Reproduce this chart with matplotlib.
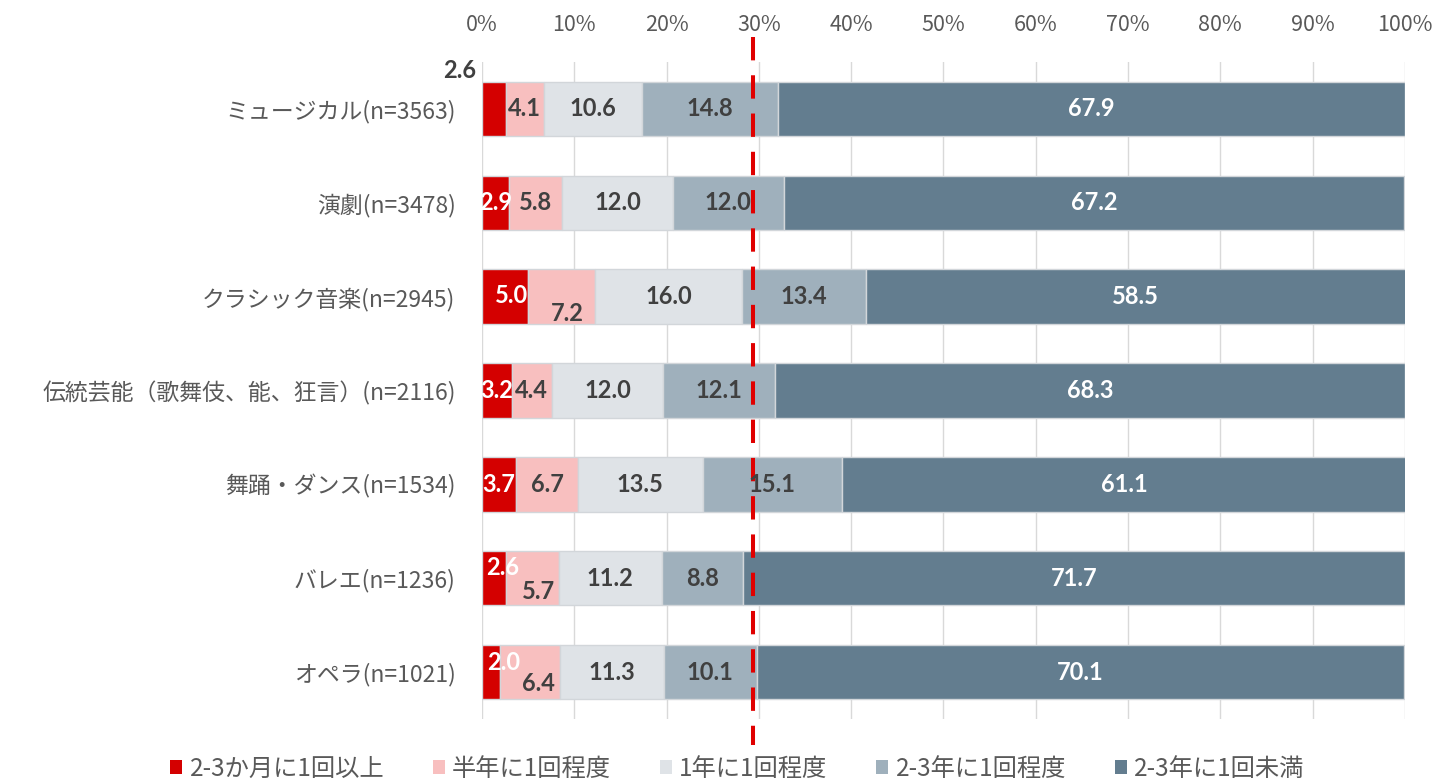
import matplotlib
matplotlib.use("Agg")
import matplotlib.pyplot as plt
from matplotlib.patches import Patch

plt.rcParams['font.family'] = ['Noto Sans CJK JP', 'DejaVu Sans']

categories = [
    "ミュージカル(n=3563)",
    "演劇(n=3478)",
    "クラシック音楽(n=2945)",
    "伝統芸能（歌舞伎、能、狂言）(n=2116)",
    "舞踊・ダンス(n=1534)",
    "バレエ(n=1236)",
    "オペラ(n=1021)",
]
series_names = ["2-3か月に1回以上", "半年に1回程度", "1年に1回程度", "2-3年に1回程度", "2-3年に1回未満"]
s_2_3_months = [2.6, 2.9, 5.0, 3.2, 3.7, 2.6, 2.0]
s_half_year = [4.1, 5.8, 7.2, 4.4, 6.7, 5.7, 6.4]
s_one_year = [10.6, 12.0, 16.0, 12.0, 13.5, 11.2, 11.3]
s_2_3_years = [14.8, 12.0, 13.4, 12.1, 15.1, 8.8, 10.1]
s_less = [67.9, 67.2, 58.5, 68.3, 61.1, 71.7, 70.1]
series = [s_2_3_months, s_half_year, s_one_year, s_2_3_years, s_less]
reference_line = 29.4
x_ticks = list(range(0, 101, 10))
x_tick_labels = [f"{t}%" for t in x_ticks]

colors = ["#D40000", "#F8BFBF", "#DFE3E7", "#9FB0BC", "#637D8F"]
text_colors = ["white", "#404040", "#404040", "#404040", "white"]

# label nudges in pixels for the crowded thin segments: (row, series) -> (dx, dy), dy up
label_nudge = {
    (0, 0): (-34, 38),
    (2, 0): (7, 1), (2, 1): (6, -17),
    (5, 0): (9, 11), (5, 1): (6, -13),
    (6, 0): (12, 10), (6, 1): (8, -11),
}
label_color_override = {(0, 0): "#404040"}

fig = plt.figure(figsize=(14.37, 7.81), dpi=100)
ax = fig.add_axes([0.3354, 0.0794, 0.6423, 0.8412])

ypos = list(range(len(categories)))
left = [0.0] * len(categories)
for si, vals in enumerate(series):
    bars = ax.barh(ypos, vals, left=left, height=0.58, color=colors[si],
                   edgecolor="#D2D6DA", linewidth=1.0, zorder=2, label=series_names[si])
    for ri, (b, v) in enumerate(zip(bars, vals)):
        cx = b.get_x() + b.get_width() / 2
        cy = b.get_y() + b.get_height() / 2
        dx, dy = label_nudge.get((ri, si), (0, 0))
        ax.annotate(f"{v:.1f}", (cx, cy), xytext=(dx, dy), textcoords="offset pixels",
                    ha="center", va="center", fontsize=17, fontweight="bold",
                    family=["Lato", "DejaVu Sans"],
                    color=label_color_override.get((ri, si), text_colors[si]),
                    zorder=5, annotation_clip=False)
    left = [l + v for l, v in zip(left, vals)]

ax.set_xlim(0, 100)
ax.set_ylim(len(categories) - 0.5, -0.5)
ax.set_xticks(x_ticks)
ax.set_xticklabels(x_tick_labels, fontsize=15.5, color="#595959")
ax.xaxis.tick_top()
ax.tick_params(axis="x", length=0, pad=19)
ax.set_yticks(ypos)
ax.set_yticklabels(categories, fontsize=16.5, color="#595959")
ax.tick_params(axis="y", length=0, pad=19)
ax.grid(axis="x", color="#D9D9D9", linewidth=1.0, zorder=0)
ax.set_axisbelow(True)
for sp in ax.spines.values():
    sp.set_visible(False)

# dashed reference line running past both ends of the plot area
ax.plot([reference_line, reference_line], [-0.767, 6.78], color="#E00000",
        linewidth=2.9, linestyle=(0, (5.8, 3.7)), solid_capstyle="butt",
        dash_capstyle="butt", clip_on=False, zorder=4)

handles = [Patch(facecolor=c, edgecolor="none") for c in colors]
fig.legend(handles, series_names, loc="center", bbox_to_anchor=(0.513, 0.016),
           ncol=5, frameon=False, fontsize=17.5, labelcolor="#595959",
           handlelength=0.5, handleheight=0.5, handletextpad=0.3, columnspacing=2.0)

fig.savefig("out.png", dpi=100, facecolor="white")
